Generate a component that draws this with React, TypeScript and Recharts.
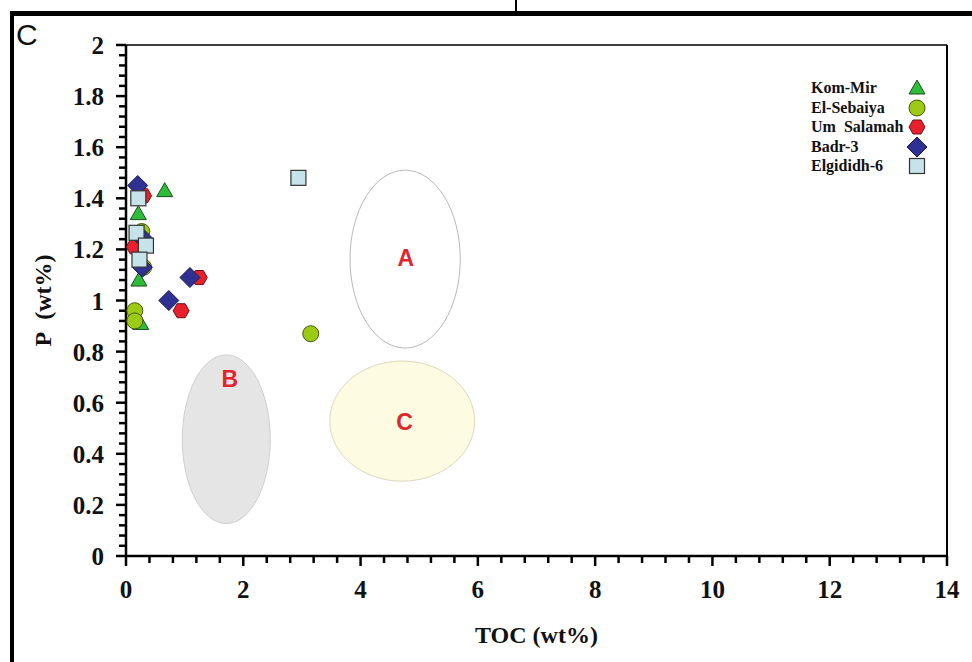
import React from 'react'
import {
  ScatterChart, Scatter, XAxis, YAxis, ReferenceLine,
} from 'recharts'

// ---- data ----
const komMir = [
  { x: 0.66, y: 1.43 }, { x: 0.21, y: 1.34 }, { x: 0.22, y: 1.08 }, { x: 0.25, y: 0.91 },
]
const elSebaiya = [
  { x: 0.15, y: 0.96 }, { x: 0.15, y: 0.92 }, { x: 3.15, y: 0.87 },
  { x: 0.27, y: 1.27 }, { x: 0.3, y: 1.13 },
]
const umSalamah = [
  { x: 0.14, y: 1.21 }, { x: 1.25, y: 1.09 }, { x: 0.94, y: 0.96 }, { x: 0.3, y: 1.41 },
]
const badr3 = [
  { x: 0.2, y: 1.45 }, { x: 1.09, y: 1.09 }, { x: 0.73, y: 1.0 },
  { x: 0.28, y: 1.13 }, { x: 0.3, y: 1.24 },
]
const elgididh6 = [
  { x: 2.94, y: 1.48 }, { x: 0.21, y: 1.4 }, { x: 0.18, y: 1.265 },
  { x: 0.34, y: 1.215 }, { x: 0.23, y: 1.16 },
]

// zones drawn as ellipses in data units
const zoneA = [{ x: 4.76, y: 1.162, rx: 0.94, ry: 0.348 }]
const zoneB = [{ x: 1.71, y: 0.457, rx: 0.75, ry: 0.33 }]
const zoneC = [{ x: 4.71, y: 0.528, rx: 1.235, ry: 0.235 }]
const zoneLabels = [
  { x: 4.77, y: 1.166, label: 'A' },
  { x: 1.77, y: 0.692, label: 'B' },
  { x: 4.75, y: 0.525, label: 'C' },
]

const xMajor = [0, 2, 4, 6, 8, 10, 12, 14]
const yMajor = [0, 0.2, 0.4, 0.6, 0.8, 1, 1.2, 1.4, 1.6, 1.8, 2]
const xMinor = Array.from({ length: 36 }, (_, i) => Math.round(i * 4) / 10)
const yMinor = Array.from({ length: 51 }, (_, i) => Math.round(i * 4) / 100)

const legendItems = [
  { name: 'Kom-Mir', kind: 'triangle' },
  { name: 'El-Sebaiya', kind: 'circle' },
  { name: 'Um  Salamah', kind: 'hexagon' },
  { name: 'Badr-3', kind: 'diamond' },
  { name: 'Elgididh-6', kind: 'square' },
]

// ---- layout ----
const W = 972
const H = 662
const MARGIN = { top: 45, right: 25, left: 0, bottom: 0 }
const Y_AXIS_W = 126
const X_AXIS_H = 106
const PX_X = (W - MARGIN.right - Y_AXIS_W) / 14
const PX_Y = (H - MARGIN.top - X_AXIS_H) / 2

const SERIF = '"Liberation Serif", "Times New Roman", serif'
const SANS = '"Liberation Sans", Arial, sans-serif'

const isMajor = (v: number, list: number[]) => list.some(m => Math.abs(m - v) < 1e-6)

// tick lengths in px, turned into data units so ReferenceLine segments can draw them
const tickLenX = (major: boolean) => (major ? 10 : 7) / PX_Y
const tickLenY = (major: boolean) => (major ? 10 : 7) / PX_X

const xLabelPts = xMajor.map(v => ({ x: v, y: 0 }))
const yLabelPts = yMajor.map(v => ({ x: 0, y: v }))

const Marker = ({ kind, cx, cy }: { kind: string; cx: number; cy: number }) => {
  switch (kind) {
    case 'triangle':
      return <polygon points={`${cx},${cy - 8} ${cx + 8},${cy + 6} ${cx - 8},${cy + 6}`}
        fill="#2dbd38" stroke="#1d4d1f" strokeWidth={1} />
    case 'circle':
      return <circle cx={cx} cy={cy} r={8} fill="#9bcb14" stroke="#485810" strokeWidth={1} />
    case 'hexagon':
      return <polygon
        points={`${cx - 8},${cy} ${cx - 4},${cy - 7} ${cx + 4},${cy - 7} ${cx + 8},${cy} ${cx + 4},${cy + 7} ${cx - 4},${cy + 7}`}
        fill="#e8202b" stroke="#701015" strokeWidth={1} />
    case 'diamond':
      return <polygon points={`${cx},${cy - 10} ${cx + 10},${cy} ${cx},${cy + 10} ${cx - 10},${cy}`}
        fill="#2e3192" stroke="#1a1a50" strokeWidth={1} />
    default:
      return <rect x={cx - 7.5} y={cy - 7.5} width={15} height={15}
        fill="#c6e3ea" stroke="#333" strokeWidth={1.2} />
  }
}

const shapeFor = (kind: string) => (p: any) => <Marker kind={kind} cx={p.cx} cy={p.cy} />

const ellipseShape = (fill: string, stroke: string) => (p: any) => (
  <ellipse cx={p.cx} cy={p.cy} rx={p.payload.rx * PX_X} ry={p.payload.ry * PX_Y}
    fill={fill} stroke={stroke} strokeWidth={1} />
)

const labelShape = (p: any) => (
  <text x={p.cx} y={p.cy} dy={8} textAnchor="middle" fontFamily={SANS}
    fontWeight="bold" fontSize={23} fill="#e0262d">{p.payload.label}</text>
)

const xLabelShape = (p: any) => (
  <text x={p.cx} y={p.cy + 42} textAnchor="middle" fontFamily={SERIF}
    fontWeight="bold" fontSize={25} fill="#111">{p.payload.x}</text>
)

const yLabelShape = (p: any) => (
  <text x={p.cx - 22} y={p.cy + 9} textAnchor="end" fontFamily={SERIF}
    fontWeight="bold" fontSize={25} fill="#111">{p.payload.y}</text>
)

export default function App() {
  return (
    <div style={{ position: 'absolute', left: 0, top: 0, width: W, height: H, background: '#fff', overflow: 'hidden' }}>
      {/* outer panel frame */}
      <div style={{ position: 'absolute', left: 10, top: 11, width: W - 10, height: 5, background: '#000' }} />
      <div style={{ position: 'absolute', left: 10, top: 11, width: 4, height: H - 11, background: '#000' }} />
      <div style={{ position: 'absolute', left: 515, top: 0, width: 2, height: 12, background: '#000' }} />
      <div style={{ position: 'absolute', left: 16, top: 18, fontFamily: SANS, fontSize: 30, lineHeight: '34px', color: '#111' }}>C</div>

      <div style={{ position: 'absolute', left: 0, top: 0 }}>
        <ScatterChart width={W} height={H} margin={MARGIN}>
          <XAxis type="number" dataKey="x" domain={[0, 14]} ticks={xMajor}
            height={X_AXIS_H} tick={false} tickLine={false}
            axisLine={{ stroke: '#000', strokeWidth: 2.5 }}
            label={{ value: 'TOC (wt%)', position: 'insideBottom', offset: 19, fill: '#111',
              style: { fontFamily: SERIF, fontWeight: 'bold', fontSize: 24 } }} />
          <YAxis type="number" dataKey="y" domain={[0, 2]} ticks={yMajor}
            width={Y_AXIS_W} tick={false} tickLine={false}
            axisLine={{ stroke: '#000', strokeWidth: 2.5 }}
            label={{ value: 'P\u00a0\u00a0(wt%)', angle: -90, position: 'insideLeft', offset: 42, fill: '#111',
              style: { fontFamily: SERIF, fontWeight: 'bold', fontSize: 24, textAnchor: 'middle' } }} />

          <ReferenceLine y={2} stroke="#000" strokeWidth={1.5} />
          <ReferenceLine x={14} stroke="#000" strokeWidth={2} />

          {xMinor.map(v => (
            <ReferenceLine key={`xt${v}`} ifOverflow="visible" stroke="#000" strokeWidth={2.5}
              segment={[{ x: v, y: 0 }, { x: v, y: -tickLenX(isMajor(v, xMajor)) }]} />
          ))}
          {yMinor.map(v => (
            <ReferenceLine key={`yt${v}`} ifOverflow="visible" stroke="#000" strokeWidth={2.5}
              segment={[{ x: 0, y: v }, { x: -tickLenY(isMajor(v, yMajor)), y: v }]} />
          ))}

          <Scatter data={zoneA} shape={ellipseShape('#ffffff', '#b8b8b8')} isAnimationActive={false} />
          <Scatter data={zoneB} shape={ellipseShape('#e5e5e5', '#cfcfcf')} isAnimationActive={false} />
          <Scatter data={zoneC} shape={ellipseShape('#fdfbe2', '#dcd9bd')} isAnimationActive={false} />
          <Scatter data={zoneLabels} shape={labelShape} isAnimationActive={false} />

          <Scatter name="Kom-Mir" data={komMir} shape={shapeFor('triangle')} isAnimationActive={false} />
          <Scatter name="El-Sebaiya" data={elSebaiya} shape={shapeFor('circle')} isAnimationActive={false} />
          <Scatter name="Um Salamah" data={umSalamah} shape={shapeFor('hexagon')} isAnimationActive={false} />
          <Scatter name="Badr-3" data={badr3} shape={shapeFor('diamond')} isAnimationActive={false} />
          <Scatter name="Elgididh-6" data={elgididh6} shape={shapeFor('square')} isAnimationActive={false} />

          <Scatter data={xLabelPts} shape={xLabelShape} isAnimationActive={false} />
          <Scatter data={yLabelPts} shape={yLabelShape} isAnimationActive={false} />
        </ScatterChart>
      </div>

      {/* legend */}
      <div style={{ position: 'absolute', left: 811, top: 78 }}>
        {legendItems.map(it => (
          <div key={it.name} style={{ position: 'relative', height: 19.5, width: 120 }}>
            <span style={{ fontFamily: SERIF, fontWeight: 'bold', fontSize: 16, lineHeight: '19.5px', color: '#111', whiteSpace: 'pre' }}>{it.name}</span>
            <svg width={24} height={22} style={{ position: 'absolute', left: 94, top: -1 }}>
              <Marker kind={it.kind} cx={12} cy={11} />
            </svg>
          </div>
        ))}
      </div>
    </div>
  )
}
